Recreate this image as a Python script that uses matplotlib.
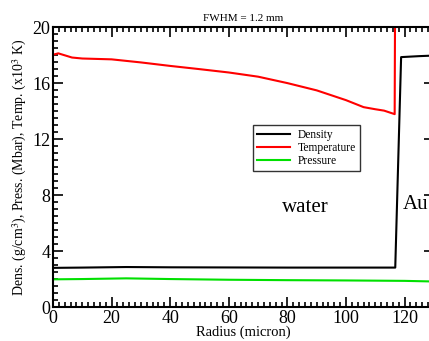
import numpy as np
import matplotlib.pyplot as plt
from matplotlib.ticker import MultipleLocator

plt.rcParams['font.family'] = ['Liberation Serif', 'DejaVu Serif']
plt.rcParams['mathtext.fontset'] = 'stix'

# data
r_dens = [0, 10, 25, 40, 60, 80, 100, 116.8, 118.8, 125, 131]
density = [2.8, 2.82, 2.86, 2.84, 2.83, 2.82, 2.82, 2.82, 17.88, 17.95, 18.0]

r_temp = [0, 1.8, 6.5, 10, 20, 30, 40, 50, 60, 70, 80, 90, 100, 106, 110, 113, 116.6, 116.8]
temperature = [18.05, 18.15, 17.85, 17.78, 17.72, 17.5, 17.25, 17.02, 16.78, 16.48,
               16.02, 15.5, 14.8, 14.3, 14.15, 14.05, 13.8, 25.0]

r_pres = [0, 10, 25, 40, 60, 80, 100, 120, 131]
pressure = [1.98, 2.0, 2.05, 2.0, 1.95, 1.92, 1.9, 1.87, 1.82]

fig = plt.figure(figsize=(4.29, 3.41), dpi=100)
ax = fig.add_axes([0.1235, 0.0997, 0.888, 0.8197])

ax.plot(r_dens, density, color='black', lw=1.5, label='Density')
ax.plot(r_temp, temperature, color='red', lw=1.5, label='Temperature')
ax.plot(r_pres, pressure, color='#00e000', lw=1.5, label='Pressure')

ax.set_xlim(0, 130)
ax.set_ylim(0, 20)
ax.xaxis.set_major_locator(MultipleLocator(20))
ax.xaxis.set_minor_locator(MultipleLocator(2))
ax.yaxis.set_major_locator(MultipleLocator(4))
ax.yaxis.set_minor_locator(MultipleLocator(0.5))
ax.tick_params(which='both', direction='in', top=True, right=True, width=1.2)
ax.tick_params(which='major', length=7, labelsize=13, pad=2)
ax.tick_params(which='minor', length=3.5)
for s in ax.spines.values():
    s.set_linewidth(1.5)

ax.set_xlabel('Radius (micron)', fontsize=10.5, labelpad=-1)
ax.set_ylabel(r'Dens. (g/cm$^3$), Press. (Mbar), Temp. (x10$^3$ K)', fontsize=10, labelpad=2)
ax.set_title('FWHM = 1.2 mm', fontsize=8, pad=5)

ax.text(86, 7.1, 'water', fontsize=15, ha='center', va='center')
ax.text(119.3, 7.3, 'Au', fontsize=15, ha='left', va='center')

leg = ax.legend(loc='upper left', bbox_to_anchor=(0.59, 0.632), bbox_transform=fig.transFigure,
                fontsize=8.3, frameon=True, fancybox=False, edgecolor='black',
                handlelength=2.9, handletextpad=0.7, borderpad=0.3, labelspacing=0.1,
                borderaxespad=0)
leg.get_frame().set_linewidth(1.0)

fig.savefig('out.png', dpi=100)
